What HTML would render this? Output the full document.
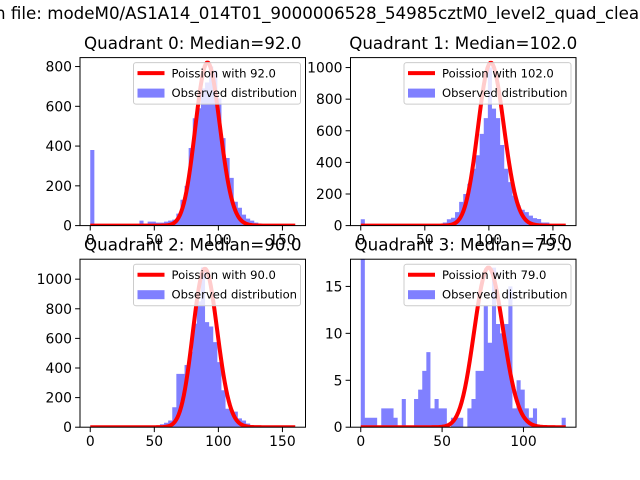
<!DOCTYPE html>
<html><head><meta charset="utf-8"><style>
html,body{margin:0;padding:0;background:#fff;}
svg{display:block;font-family:"DejaVu Sans","Liberation Sans",sans-serif;}
</style></head><body>
<svg id="fig" width="640" height="480" viewBox="0 0 640 480">
<text x="-5" y="19" font-size="16.7" fill="#000">n file: modeM0/AS1A14_014T01_9000006528_54985cztM0_level2_quad_clean.evt</text>
</svg>
<script>
// ---- data ----
const titles = ["Quadrant 0: Median=92.0","Quadrant 1: Median=102.0","Quadrant 2: Median=90.0","Quadrant 3: Median=79.0"];
const medians = [92.0, 102.0, 90.0, 79.0];
const curvePeaks = [820, 1030, 1070, 17];
const curveMax = [160, 160, 160, 126];
const binMax = [160, 160, 160, 126];
const counts0 = [380,0,0,0,0,0,0,0,0,0,0,5,25,10,20,20,15,15,20,25,30,60,130,200,390,540,590,690,720,800,780,640,440,340,240,120,90,55,35,25,15,10,8,5,3,0,0,0,0,0];
const counts1 = [40,0,0,0,0,0,0,0,0,0,0,0,0,0,0,0,0,0,5,10,20,40,50,85,150,200,265,360,445,580,680,1000,740,680,510,360,275,190,127,100,85,63,47,42,20,20,5,0,0,0];
const counts2 = [2,0,0,0,0,0,0,0,0,0,0,0,0,0,0,0,10,20,30,45,135,360,360,420,510,700,850,1080,710,680,575,440,250,125,115,105,60,45,25,13,5,0,0,0,0,0,0,0,0,0];
const counts3 = [18,1,1,1,0,2,2,2,1,0,3,0,0,3,4,6,8,2,3,2,2,0,1,1,1,0,2,3,6,6,13,9,17,11,10,11,15,2,5,4,2,1,2,0,0,0,0,0,0,1];
const yMaxes = [845, 1063, 1135, 17.9];
const yTicks0 = [0,200,400,600,800];
const yTicks1 = [0,200,400,600,800,1000];
const yTicks2 = [0,200,400,600,800,1000];
const yTicks3 = [0,5,10,15];
const xTicks0 = [0,50,100,150];
const xTicks3 = [0,50,100];
// ---- layout ----
const NS="http://www.w3.org/2000/svg";
const svg=document.getElementById('fig');
function mk(tag,attrs,parent){const e=document.createElementNS(NS,tag);for(const k in attrs)e.setAttribute(k,attrs[k]);(parent||svg).appendChild(e);return e;}
const boxes=[[80,57.6,225.5,168],[350.5,57.6,225.5,168],[80,259.2,225.5,168],[350.5,259.2,225.5,168]];
const allCounts=[counts0,counts1,counts2,counts3];
const allYTicks=[yTicks0,yTicks1,yTicks2,yTicks3];
const allXTicks=[xTicks0,xTicks0,xTicks0,xTicks3];
function lgam(n){let s=0;for(let i=2;i<=n;i++)s+=Math.log(i);return s;}
for(let q=0;q<4;q++){
  const [L,T,W,H]=boxes[q];
  const g=mk('g',{});
  
  
  const xmin=-0.05*binMax[q], xmax=binMax[q]*1.05;
  const sx=v=>L+(v-xmin)/(xmax-xmin)*W;
  const sy=v=>T+H-v/yMaxes[q]*H;
  const clipId='clip'+q;
  const cp=mk('clipPath',{id:clipId},g);mk('rect',{x:L,y:T,width:W,height:H},cp);
  const plot=mk('g',{'clip-path':'url(#'+clipId+')'},g);
  const c=allCounts[q], bw=binMax[q]/c.length;
  let bd='';
  for(let i=0;i<c.length;i++){
    if(c[i]<=0)continue;
    const x0=sx(i*bw), x1=sx((i+1)*bw), y0=sy(c[i]), y1=sy(0);
    bd+='M'+x0.toFixed(2)+' '+y1.toFixed(2)+'V'+y0.toFixed(2)+'H'+x1.toFixed(2)+'V'+y1.toFixed(2)+'Z';
  }
  const bars=mk('path',{d:bd,fill:'#8080ff'},plot);
  
  
  const lam=medians[q], pk=Math.floor(lam);
  const lp=k=>k*Math.log(lam)-lam-lgam(k);
  const ref=lp(pk);
  let d='';
  for(let k=0;k<=curveMax[q];k++){const v=curvePeaks[q]*Math.exp(lp(k)-ref);d+=(k?'L':'M')+sx(k).toFixed(2)+' '+sy(v).toFixed(2);}
  const path=mk('path',{d:d,fill:'none',stroke:'#ff0000','stroke-width':4,'stroke-linejoin':'round'},plot);
  
  
  const fr=mk('rect',{x:L,y:T,width:W,height:H,fill:'none',stroke:'#000','stroke-width':1},g);
  
  
  for(const t of allXTicks[q]){
    mk('line',{x1:sx(t),x2:sx(t),y1:T+H,y2:T+H+4.9,stroke:'#000','stroke-width':1},g);
    const tx=mk('text',{x:sx(t),y:T+H+19,'font-size':13.9,'text-anchor':'middle'},g);tx.textContent=t;
    
    
  }
  for(const t of allYTicks[q]){
    mk('line',{x1:L-4.9,x2:L,y1:sy(t),y2:sy(t),stroke:'#000','stroke-width':1},g);
    const ty=mk('text',{x:L-8,y:sy(t)+5,'font-size':13.9,'text-anchor':'end'},g);ty.textContent=t;
    
    
  }
  const tt=mk('text',{x:L+W/2,y:T-8.5,'font-size':16.7,'text-anchor':'middle'},g);tt.textContent=titles[q];
  
  
  const lg=mk('g',{},g);
  
  
  const lx=L+W-172, ly=T+5;
  mk('rect',{x:lx,y:ly,width:167,height:41.5,rx:2.5,fill:'#fff','fill-opacity':0.8,stroke:'#cccccc','stroke-width':1},lg);
  mk('line',{x1:lx+4,x2:lx+31,y1:ly+10.5,y2:ly+10.5,stroke:'#ff0000','stroke-width':4},lg);
  const t1=mk('text',{x:lx+38,y:ly+14.8,'font-size':11.6},lg);t1.textContent='Poission with '+medians[q].toFixed(1);
  
  
  mk('rect',{x:lx+4,y:ly+26,width:27,height:9,fill:'#8080ff'},lg);
  const t2=mk('text',{x:lx+38,y:ly+34.5,'font-size':11.6},lg);t2.textContent='Observed distribution';
  
  
}
</script>
</body></html>
